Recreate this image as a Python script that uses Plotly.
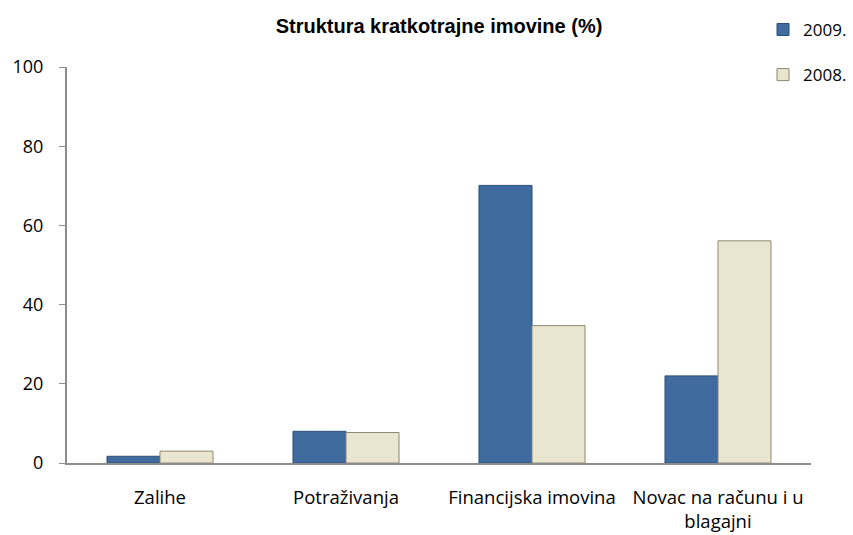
import plotly.graph_objects as go

categories = ["Zalihe", "Potraživanja", "Financijska imovina", "Novac na računu i u<br>blagajni"]
values_2009 = [1.7, 8.0, 70.1, 22.0]
values_2008 = [3.0, 7.7, 34.7, 56.1]
y_ticks = [0, 20, 40, 60, 80, 100]

fig = go.Figure()
fig.add_trace(go.Bar(
    name="2009.", x=categories, y=values_2009, legendgroup="a",
    marker=dict(color="#3F6B9F", line=dict(color="#2B4F7A", width=1)),
))
fig.add_trace(go.Bar(
    name="2008.", x=categories, y=values_2008, legendgroup="b",
    marker=dict(color="#E9E5CF", line=dict(color="#8E8A72", width=1)),
))

fig.update_layout(
    width=853, height=535,
    margin=dict(l=67, r=42, t=67, b=72, autoexpand=False),
    plot_bgcolor="white", paper_bgcolor="white",
    barmode="group", bargap=0.43, bargroupgap=0,
    title=dict(text="<b>Struktura kratkotrajne imovine (%)</b>",
               font=dict(family="Liberation Sans, Arial", size=20, color="black"),
               x=0.5, xref="paper", xanchor="center", y=0.952, yanchor="middle"),
    font=dict(family="Open Sans, Noto Sans", size=18, color="black"),
    legend=dict(x=(763 - 67) / 744, xanchor="left", y=1.139, yanchor="top",
                font=dict(size=17), tracegroupgap=20, bgcolor="rgba(0,0,0,0)"),
    xaxis=dict(showline=True, linecolor="#8C8C8C", linewidth=2, ticks="",
               showgrid=False, tickfont=dict(size=18.5), ticklabelstandoff=17),
    yaxis=dict(range=[0, 100], tickvals=y_ticks, showline=True, linecolor="#8C8C8C",
               linewidth=2, ticks="outside", ticklen=6, tickcolor="#8C8C8C",
               showgrid=False, zeroline=False, tickfont=dict(size=18),
               ticklabelstandoff=12),
)

fig.write_html("out.html", config={"displayModeBar": False},
               post_script="document.body.style.margin='0';")
